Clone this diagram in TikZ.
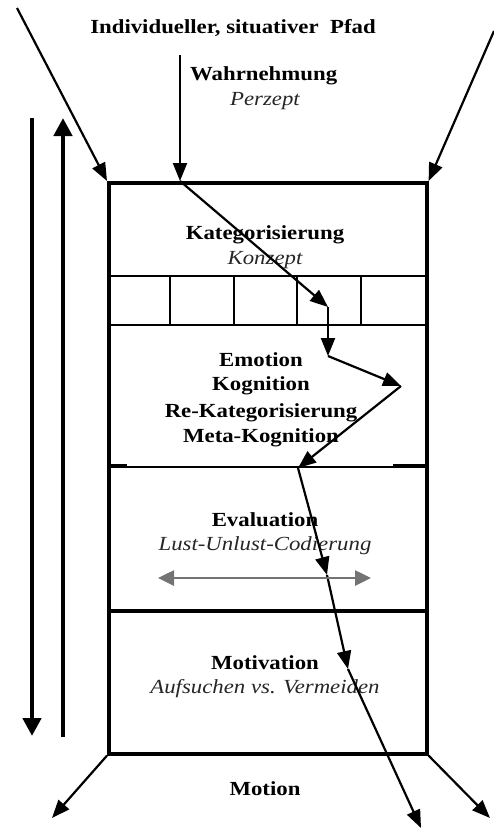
\documentclass[tikz,border=0pt]{standalone}
\usepackage{fontspec}
\setmainfont{Liberation Serif}[FakeStretch=1.14]
\usetikzlibrary{arrows.meta}
\begin{document}
\begin{tikzpicture}[x=1pt,y=-1pt,
  lbl/.style={inner sep=0pt,font=\fontsize{20}{24}\selectfont\bfseries},
  sub/.style={inner sep=0pt,font=\fontsize{20}{24}\selectfont\itshape,text=black!85},
  flow/.style={line width=2.2pt,-{Triangle[length=18pt,width=14pt]}},
  heavyarrow/.style={line width=4.5pt,-{Triangle[length=18pt,width=18pt]}},
  axisarrow/.style={line width=2.6pt,color=black!55,{Triangle[length=16pt,width=15pt]}-{Triangle[length=16pt,width=15pt]}},
  wall/.style={line width=3.6pt},
  divider/.style={line width=2.3pt}]
\useasboundingbox (0,0) rectangle (494,831);

% outer frame of the layered box
\node[draw,wall,minimum width=318pt,minimum height=571pt,inner sep=0pt,anchor=north west] (box) at (107,181) {};

% layer dividers
\draw[divider] (107,276) -- (425,276);
\draw[divider] (107,325) -- (425,325);
\draw[divider] (107,467) -- (425,467);
\draw[wall] (107,611) -- (425,611);
\draw[wall] (107,466) -- (127,466);
\draw[wall] (393,466) -- (425,466);

% concept cells
\foreach \cx in {170,234,297,361}
  \draw[divider] (\cx,276) -- (\cx,325);

% labels
\node[lbl] (pfad) at (233,28) {Individueller, situativer\ \ Pfad};
\node[lbl,anchor=west] (wahr) at (190,76) {Wahrnehmung};
\node[sub] (perz) at (265,101) {Perzept};
\node[lbl] (kat) at (265,235) {Kategorisierung};
\node[sub] (konz) at (265,260) {Konzept};
\node[lbl] (emo) at (261,360) {Emotion};
\node[lbl] (kog) at (261,386) {Kognition};
\node[lbl] (rekat) at (261,413) {Re-Kategorisierung};
\node[lbl] (meta) at (261,438) {Meta-Kognition};
\node[lbl] (eval) at (265,520) {Evaluation};
\node[sub] (lust) at (265,546) {Lust-Unlust-Codierung};
\node[lbl] (motiv) at (265,663) {Motivation};
\node[sub] (aufs) at (265,689) {Aufsuchen vs. Vermeiden};
\node[lbl] (motion) at (265,789) {Motion};

% path points
\coordinate (w0) at (180,55);
\coordinate (p0) at (180,181);
\coordinate (p1) at (328,307);
\coordinate (p2) at (328,356);
\coordinate (p3) at (401,386);
\coordinate (p4) at (298,468);
\coordinate (p5) at (327,575);
\coordinate (p6) at (348,669);
\coordinate (p7) at (421,828);

\draw[flow] (w0) -- (p0);
\draw[flow] (p0) -- (p1);
\draw[flow] (p1) -- (p2);
\draw[flow] (p2) -- (p3);
\draw[flow] (p3) -- (p4);
\draw[flow] (p4) -- (p5);
\draw[flow] (p5) -- (p6);
\draw[flow] (p6) -- (p7);

% inputs and outputs of the box
\coordinate (inL) at (17,8);
\coordinate (inR) at (494,31);
\coordinate (outL) at (52,818);
\coordinate (outR) at (490,818);
\draw[flow] (inL) -- (box.north west);
\draw[flow] (inR) -- (box.north east);
\draw[flow] (box.south west) -- (outL);
\draw[flow] (box.south east) -- (outR);

% pleasure / displeasure axis
\coordinate (rl) at (158,578);
\coordinate (rr) at (371,578);
\draw[axisarrow] (rl) -- (rr);

% top-down and bottom-up arrows
\coordinate (dTop) at (32,118);
\coordinate (dBot) at (32,736);
\coordinate (uBot) at (63,737);
\coordinate (uTop) at (63,118);
\draw[heavyarrow] (dTop) -- (dBot);
\draw[heavyarrow] (uBot) -- (uTop);
\end{tikzpicture}
\end{document}
